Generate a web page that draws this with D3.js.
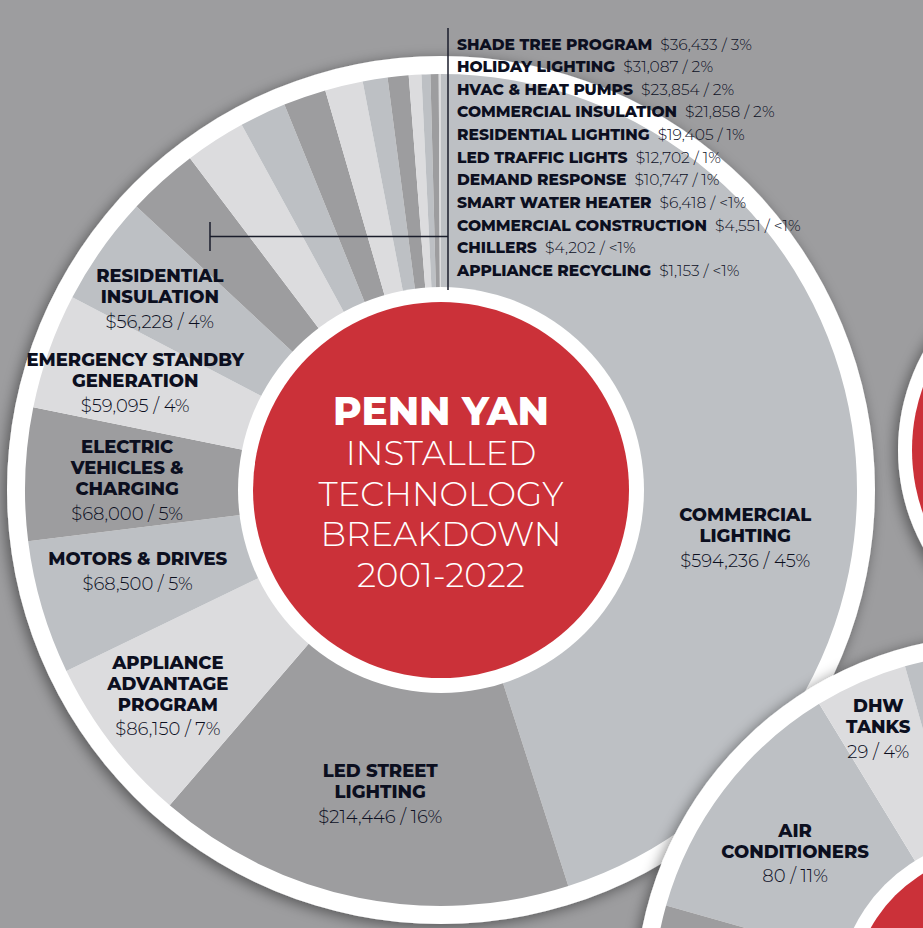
<!DOCTYPE html>
<html>
<head>
<meta charset="utf-8">
<title>Penn Yan installed technology breakdown</title>
<script src="https://d3js.org/d3.v7.min.js"></script>
<style>
  body { margin: 0; background: #9d9d9f; overflow: hidden; }
  svg { display: block; }
  .name { font-family: "Montserrat", "Open Sans", sans-serif; font-weight: 800; fill: #0c0f1f; }
  .val { font-family: "Montserrat", "Open Sans", sans-serif; font-weight: 300; fill: #0c0f1f; }
</style>
</head>
<body>
<div id="chart"></div>
<script>
// main pie: installed technology, in dollars
var categories = ["COMMERCIAL LIGHTING", "LED STREET LIGHTING", "APPLIANCE ADVANTAGE PROGRAM",
  "MOTORS & DRIVES", "ELECTRIC VEHICLES & CHARGING", "EMERGENCY STANDBY GENERATION",
  "RESIDENTIAL INSULATION", "SHADE TREE PROGRAM", "HOLIDAY LIGHTING", "HVAC & HEAT PUMPS",
  "COMMERCIAL INSULATION", "RESIDENTIAL LIGHTING", "LED TRAFFIC LIGHTS", "DEMAND RESPONSE",
  "SMART WATER HEATER", "COMMERCIAL CONSTRUCTION", "CHILLERS", "APPLIANCE RECYCLING"];
var amounts = [594236, 214446, 86150, 68500, 68000, 59095, 56228, 36433, 31087, 23854,
  21858, 19405, 12702, 10747, 6418, 4551, 4202, 1153];
var shares = ["45%", "16%", "7%", "5%", "5%", "4%", "4%", "3%", "2%", "2%", "2%", "1%",
  "1%", "1%", "<1%", "<1%", "<1%", "<1%"];

// second pie (partly off the page): counts
var units = ["AIR CONDITIONERS", "DHW TANKS", "", ""];
var unitCounts = [80, 29, 260, 304];
var unitShares = ["11%", "4%", "", ""];

// line breaks for the labels drawn inside the slices
var wrapped = {
  "COMMERCIAL LIGHTING": ["COMMERCIAL", "LIGHTING"],
  "LED STREET LIGHTING": ["LED STREET", "LIGHTING"],
  "APPLIANCE ADVANTAGE PROGRAM": ["APPLIANCE", "ADVANTAGE", "PROGRAM"],
  "MOTORS & DRIVES": ["MOTORS & DRIVES"],
  "ELECTRIC VEHICLES & CHARGING": ["ELECTRIC", "VEHICLES &", "CHARGING"],
  "EMERGENCY STANDBY GENERATION": ["EMERGENCY STANDBY", "GENERATION"],
  "RESIDENTIAL INSULATION": ["RESIDENTIAL", "INSULATION"],
  "AIR CONDITIONERS": ["AIR", "CONDITIONERS"],
  "DHW TANKS": ["DHW", "TANKS"]
};
var titleLines = ["INSTALLED", "TECHNOLOGY", "BREAKDOWN", "2001-2022"];

var width = 923, height = 928;
var cx = 441, cy = 490;
var shades = ["#bdc0c4", "#9d9d9f", "#dcdcde"];
var red = "#cb3139";
// where the in-slice labels sit (polar, degrees clockwise from 12 o'clock)
var labelR = [308, 310, 342, 314, 314, 324, 340];
var labelDeg = [99, 191.3, 233, 255, 271.7, 289.3, 304.2];
var listStart = 7;

var fmt = d3.format("$,");
var rad = Math.PI / 180;

var svg = d3.select("#chart").append("svg")
    .attr("width", width)
    .attr("height", height);

var defs = svg.append("defs");
defs.append("filter").attr("id", "shadow")
    .attr("x", "-20%").attr("y", "-20%").attr("width", "140%").attr("height", "140%")
  .append("feDropShadow")
    .attr("dx", -3).attr("dy", 3).attr("stdDeviation", 7)
    .attr("flood-color", "#000").attr("flood-opacity", 0.45);

svg.append("rect").attr("width", width).attr("height", height).attr("fill", "#9d9d9f");

// third chart peeking in at the right edge
var third = svg.append("g").attr("transform", "translate(1100,450)");
third.append("circle").attr("r", 202).attr("fill", "#fff").attr("filter", "url(#shadow)");
third.append("circle").attr("r", 188).attr("fill", red);

// ---- main pie ----
var pie = d3.pie().sort(null).value(function(d) { return d.value; });
var data = categories.map(function(c, i) { return { name: c, value: amounts[i], share: shares[i] }; });
var arcs = pie(data);

var main = svg.append("g").attr("transform", "translate(" + cx + "," + cy + ")");
main.append("circle").attr("r", 434).attr("fill", "#fff").attr("filter", "url(#shadow)");

var arc = d3.arc().innerRadius(200).outerRadius(416);
main.selectAll("path.slice")
    .data(arcs)
    .enter().append("path")
    .attr("class", "slice")
    .attr("d", arc)
    .attr("fill", function(d, i) { return shades[i % 3]; });

main.append("circle").attr("r", 203).attr("fill", "#fff");
main.append("circle").attr("r", 188).attr("fill", red);

function drawLabel(g, d, r, deg, valueText) {
  var a = deg * rad;
  var x = Math.sin(a) * r, y = -Math.cos(a) * r;
  var lines = wrapped[d.data.name];
  var span = 21 * (lines.length - 1) + 24.5;
  var base = y + 6 - span / 2;
  var t = g.append("g");
  lines.forEach(function(l, k) {
    t.append("text").attr("class", "name")
        .attr("x", x).attr("y", base + k * 21)
        .attr("text-anchor", "middle")
        .style("font-size", "18px")
        .text(l);
  });
  t.append("text").attr("class", "val")
      .attr("x", x).attr("y", base + span)
      .attr("text-anchor", "middle")
      .style("font-size", "18px")
      .text(valueText);
}

arcs.slice(0, listStart).forEach(function(d, i) {
  drawLabel(main, d, labelR[i], labelDeg[i], fmt(d.data.value) + " / " + d.data.share);
});

// centre title
main.append("text")
    .attr("text-anchor", "middle").attr("y", -65)
    .style("font-family", "Montserrat, 'Open Sans', sans-serif")
    .style("font-weight", 800).style("font-size", "39px")
    .attr("fill", "#fff")
    .text("PENN YAN");
titleLines.forEach(function(l, k) {
  main.append("text")
      .attr("text-anchor", "middle").attr("y", -25 + k * 40.7)
      .style("font-family", "Montserrat, 'Open Sans', sans-serif")
      .style("font-weight", 300).style("font-size", "34px")
      .attr("fill", "#fff")
      .text(l);
});

// bracket for the small slices
var bracket = svg.append("g").attr("stroke", "#1a1d2b").attr("stroke-width", 1.5);
bracket.append("line").attr("x1", 448).attr("x2", 448).attr("y1", 28).attr("y2", 290);
bracket.append("line").attr("x1", 210).attr("x2", 448).attr("y1", 236.5).attr("y2", 236.5);
bracket.append("line").attr("x1", 210).attr("x2", 210).attr("y1", 222).attr("y2", 251);

var list = svg.append("g");
arcs.slice(listStart).forEach(function(d, k) {
  var y = 49.5 + k * 22.65;
  var n = list.append("text").attr("class", "name")
      .attr("x", 457).attr("y", y)
      .style("font-size", "15.5px")
      .text(d.data.name);
  var w = n.node().getComputedTextLength();
  list.append("text").attr("class", "val")
      .attr("x", 457 + w + 8).attr("y", y)
      .style("font-size", "15.5px")
      .text(fmt(d.data.value) + " / " + d.data.share);
});

// ---- second pie, bottom right ----
var start2 = -74.2 * rad;
var pie2 = d3.pie().sort(null).value(function(d) { return d.value; })
    .startAngle(start2).endAngle(start2 + 2 * Math.PI);
var arcs2 = pie2(units.map(function(u, i) { return { name: u, value: unitCounts[i], share: unitShares[i] }; }));
var shades2 = ["#bdc0c4", "#dcdcde", "#bdc0c4", "#9d9d9f"];
var labelR2 = [252, 297];
var labelDeg2 = [305.6, 335.8];

var second = svg.append("g").attr("transform", "translate(1000,1000)");
second.append("circle").attr("r", 365).attr("fill", "#fff").attr("filter", "url(#shadow)");
second.selectAll("path")
    .data(arcs2)
    .enter().append("path")
    .attr("d", d3.arc().innerRadius(150).outerRadius(347))
    .attr("fill", function(d, i) { return shades2[i]; });
second.append("circle").attr("r", 163).attr("fill", "#fff");
second.append("circle").attr("r", 148).attr("fill", red);

arcs2.forEach(function(d, i) {
  if (!d.data.name) return;
  drawLabel(second, d, labelR2[i], labelDeg2[i], d.data.value + " / " + d.data.share);
});
</script>
</body>
</html>
